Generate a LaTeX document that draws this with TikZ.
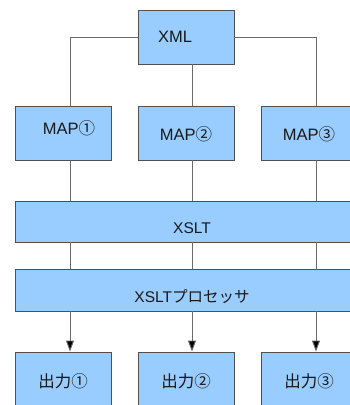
\documentclass[tikz,border=0pt]{standalone}
\usepackage{fontspec}
\setmainfont{Liberation Sans}
\newfontfamily\jpfont{Noto Sans CJK JP}
\usetikzlibrary{arrows.meta}
\definecolor{boxfill}{HTML}{99CCFF}
\definecolor{boxline}{HTML}{505050}
\definecolor{wirecol}{HTML}{6A6A6A}
\begin{document}
\begin{tikzpicture}[x=1pt,y=-1pt,
  box/.style={draw=boxline, fill=boxfill, line width=0.9pt, inner sep=0pt},
  small/.style={box, minimum width=96pt, minimum height=54pt},
  wide/.style={box, minimum width=354pt},
  lbl/.style={font=\fontsize{16.5}{18}\selectfont, inner sep=0pt, text=black!90},
  lblw/.style={lbl, font=\fontsize{15.5}{17}\selectfont},
  wire/.style={draw=wirecol, line width=0.9pt},
  arr/.style={wire, -{Triangle[width=8pt,length=11pt,fill=black]}}]
\useasboundingbox (0,0) rectangle (350,405);
\clip (0,0) rectangle (350,405);

% source document
\node[small, label={[lbl,xshift=-11pt]center:XML}] (xml) at (186,37) {};

% mapping stage
\node[small, label={[lbl,xshift=6pt,yshift=5pt]center:MAP{\jpfont ①}}] (map1) at (63,133) {};
\node[small, label={[lbl,yshift=-1pt]center:MAP{\jpfont ②}}] (map2) at (186,133) {};
\node[small, label={[lbl,yshift=-1pt]center:MAP{\jpfont ③}}] (map3) at (309,133) {};

% transformation layers
\node[wide, minimum height=41pt, label={[lblw,yshift=-6.5pt]center:XSLT}] (xslt) at (192,221.5) {};
\node[wide, minimum height=42pt, label={[lblw,yshift=-7pt]center:XSLT{\jpfont プロセッサ}}] (proc) at (192,290) {};

% results
\node[small, minimum height=68pt, label={[lbl,yshift=5pt]center:{\jpfont 出力①}}] (out1) at (63,386) {};
\node[small, minimum height=68pt, label={[lbl,yshift=5pt]center:{\jpfont 出力②}}] (out2) at (186,386) {};
\node[small, minimum height=68pt, label={[lbl,yshift=5pt]center:{\jpfont 出力③}}] (out3) at (309,386) {};

% XML fans out to the maps
\draw[wire] (xml.west) -| ([xshift=7pt]map1.north);
\draw[wire] (xml.east) -| ([xshift=7pt]map3.north);
\draw[wire] ([xshift=6pt]xml.south) -- ([xshift=6pt]map2.north);

% maps into XSLT
\foreach \m/\d in {map1/7pt, map2/6pt, map3/7pt}
  \draw[wire] ([xshift=\d]\m.south) -- ([xshift=\d]\m.south |- xslt.north);

% XSLT into the processor
\foreach \m/\d in {map1/7pt, map2/6pt, map3/7pt}
  \draw[wire] ([xshift=\d]\m.south |- xslt.south) -- ([xshift=\d]\m.south |- proc.north);

% processor to outputs
\draw[arr] ([xshift=7pt]out1.north |- proc.south) -- ([xshift=7pt]out1.north);
\draw[arr] ([xshift=6pt]out2.north |- proc.south) -- ([xshift=6pt]out2.north);
\draw[arr] ([xshift=7pt]out3.north |- proc.south) -- ([xshift=7pt]out3.north);
\end{tikzpicture}
\end{document}
